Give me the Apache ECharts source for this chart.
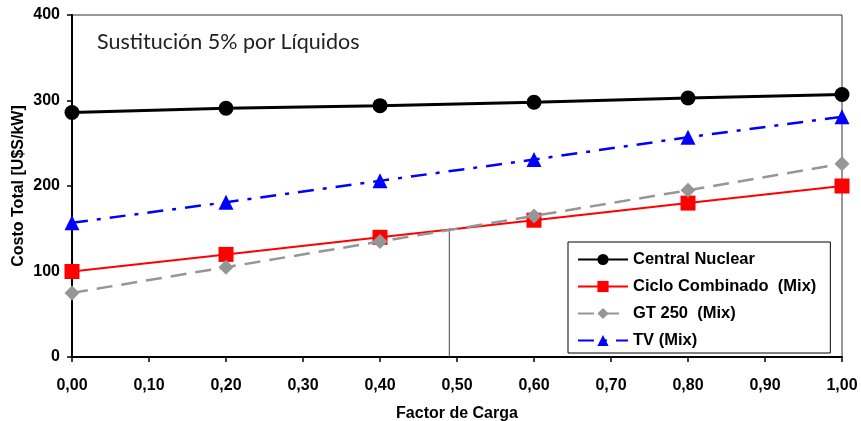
<!DOCTYPE html>
<html>
<head>
<meta charset="utf-8">
<script src="https://cdn.jsdelivr.net/npm/echarts@6/dist/echarts.min.js"></script>
<style>
  html, body { margin: 0; padding: 0; background: #fff; }
  #chart { width: 861px; height: 421px; }
</style>
</head>
<body>
<div id="chart"></div>
<script>
// Load factor (x) and total cost per kW for each technology
const factorCarga = [0.0, 0.2, 0.4, 0.6, 0.8, 1.0];
const centralNuclear = [286, 291, 294, 298, 303, 307];
const cicloCombinado = [100, 120, 140, 160, 180, 200];
const gt250 = [75, 105, 135, 165, 195, 226];
const tvMix = [157, 181, 206, 231, 257, 281];
// Break-even marker between combined cycle and GT 250
const cruceX = [0.49, 0.49];
const cruceY = [0, 150];

const seriesNames = ['Central Nuclear', 'Ciclo Combinado  (Mix)', 'GT 250  (Mix)', 'TV (Mix)'];

const pairs = (xs, ys) => xs.map((x, i) => [x, ys[i]]);
const fmtComma = v => v.toFixed(2).replace('.', ',');
const arialBold = { fontFamily: 'Liberation Sans, Arial, sans-serif', fontWeight: 'bold', color: '#000' };

const chart = echarts.init(document.getElementById('chart'), null, { renderer: 'canvas' });

chart.setOption({
  animation: false,
  backgroundColor: '#fff',
  title: {
    text: 'Sustitución 5% por Líquidos',
    left: 92, top: 26,
    textStyle: { fontFamily: 'Lato, sans-serif', fontWeight: 'normal', fontSize: 21.5, color: '#222' }
  },
  grid: {
    left: 72, right: 19, top: 15, bottom: 64,
    outerBoundsMode: 'none',
    show: true, borderColor: '#333', borderWidth: 1
  },
  legend: {
    data: seriesNames,
    orient: 'vertical',
    left: 568, top: 242,
    padding: [9, 14, 4, 9],
    itemGap: 10,
    itemWidth: 50,
    itemHeight: 14,
    backgroundColor: '#fff',
    borderColor: '#000',
    borderWidth: 1,
    borderRadius: 0,
    textStyle: { ...arialBold, fontSize: 16.5 }
  },
  xAxis: {
    type: 'value',
    min: 0, max: 1, interval: 0.1,
    name: 'Factor de Carga',
    nameLocation: 'middle',
    nameGap: 49,
    nameMoveOverlap: false,
    nameTextStyle: { ...arialBold, fontSize: 16 },
    axisLine: { lineStyle: { color: '#000', width: 2 } },
    axisTick: { show: true, length: 5, lineStyle: { color: '#000', width: 1.5 } },
    axisLabel: { formatter: fmtComma, margin: 21, ...arialBold, fontSize: 16 },
    splitLine: { show: false }
  },
  yAxis: {
    type: 'value',
    min: 0, max: 400, interval: 100,
    name: 'Costo Total [U$S/kW]',
    nameLocation: 'middle',
    nameGap: 45,
    nameMoveOverlap: false,
    nameTextStyle: { ...arialBold, fontSize: 16 },
    axisLine: { show: true, lineStyle: { color: '#000', width: 2 } },
    axisTick: { show: true, length: 5, lineStyle: { color: '#000', width: 1.5 } },
    axisLabel: { margin: 12, ...arialBold, fontSize: 16 },
    splitLine: { show: false }
  },
  series: [
    {
      name: 'cruce',
      type: 'line',
      data: pairs(cruceX, cruceY),
      symbol: 'none',
      silent: true,
      lineStyle: { color: '#444', width: 1 },
      z: 1
    },
    {
      name: seriesNames[0],
      type: 'line',
      data: pairs(factorCarga, centralNuclear),
      symbol: 'circle', symbolSize: 15,
      itemStyle: { color: '#000' },
      lineStyle: { color: '#000', width: 3 },
      z: 5
    },
    {
      name: seriesNames[1],
      type: 'line',
      data: pairs(factorCarga, cicloCombinado),
      symbol: 'rect', symbolSize: 15,
      itemStyle: { color: '#ff0000' },
      lineStyle: { color: '#ff0000', width: 2 },
      z: 3
    },
    {
      name: seriesNames[2],
      type: 'line',
      data: pairs(factorCarga, gt250),
      symbol: 'diamond', symbolSize: 15,
      itemStyle: { color: '#969696' },
      lineStyle: { color: '#969696', width: 2.5, type: [16, 9] },
      z: 4
    },
    {
      name: seriesNames[3],
      type: 'line',
      data: pairs(factorCarga, tvMix),
      symbol: 'triangle', symbolSize: 15,
      itemStyle: { color: '#0000ff' },
      lineStyle: { color: '#0000ff', width: 2.5, type: [16, 9, 4, 9] },
      z: 4
    }
  ]
});
</script>
</body>
</html>
